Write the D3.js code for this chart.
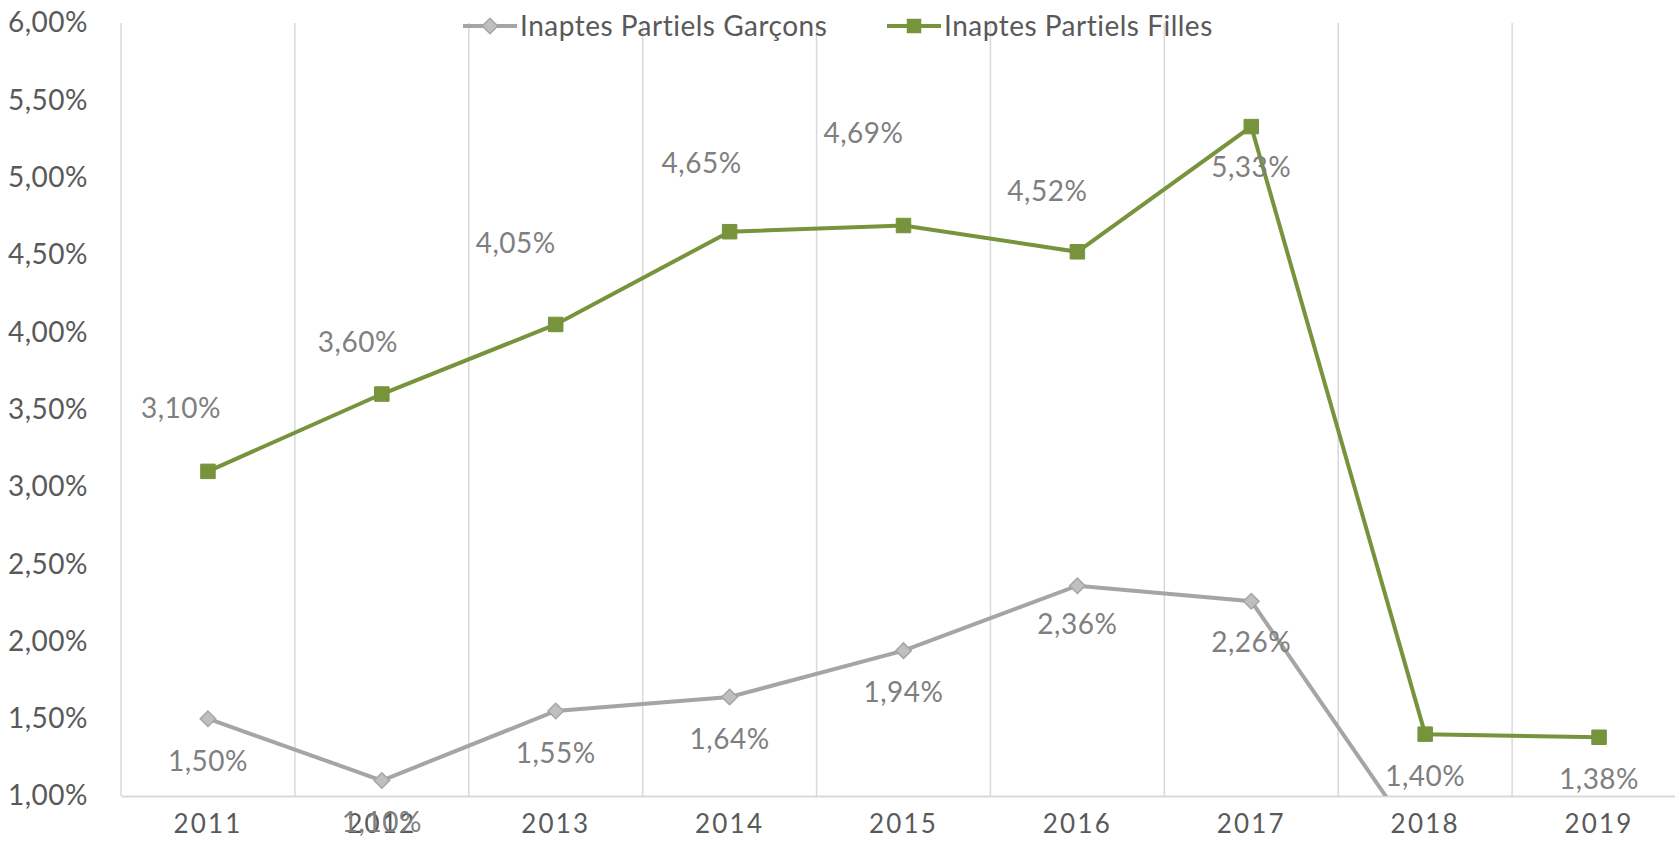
<!DOCTYPE html>
<html><head><meta charset="utf-8">
<script src="https://cdn.jsdelivr.net/npm/d3@7"></script>
<style>
html,body{margin:0;padding:0;background:#fff;overflow:hidden;}
text{font-family:Lato,"Open Sans",sans-serif;}
</style></head>
<body><svg id="c" width="1675" height="846"></svg>
<script>
const years = ["2011","2012","2013","2014","2015","2016","2017","2018","2019"];
const garcons = [1.50, 1.10, 1.55, 1.64, 1.94, 2.36, 2.26, 0.63, 0.60];
const filles  = [3.10, 3.60, 4.05, 4.65, 4.69, 4.52, 5.33, 1.40, 1.38];
const yTicks = [1.0, 1.5, 2.0, 2.5, 3.0, 3.5, 4.0, 4.5, 5.0, 5.5, 6.0];
const seriesNames = ["Inaptes Partiels Garçons", "Inaptes Partiels Filles"];
// label nudges (px) relative to each point
const gLabelOff = [[0,42],[0,42],[0,42],[0,42],[0,42],[0,38],[0,41],[0,42],[0,42]];
const fLabelOff = [[-27,-63],[-24,-52],[-40,-81],[-28,-69],[-40,-92],[-30,-61],[0,41],[0,42],[0,42]];

const W = 1675, H = 846;
const m = {left:121, top:23, bottom:50};
const plotRight = 1686;
const svg = d3.select("#c");
const x = d3.scaleBand().domain(years).range([m.left, plotRight]);
const y = d3.scaleLinear().domain([1, 6]).range([H - m.bottom, m.top]);
const fmt = v => d3.format(".2f")(v).replace(".", ",") + "%";
const cx = d => x(d) + x.bandwidth()/2;
const FS = 28, LS = 0.5;

// vertical gridlines at category boundaries
svg.append("g").selectAll("line").data(years).join("line")
  .attr("x1", d => x(d)).attr("x2", d => x(d))
  .attr("y1", y(6)).attr("y2", y(1))
  .attr("stroke", "#d9d9d9").attr("stroke-width", 1.5);

// x axis
const xAxis = svg.append("g").attr("transform", `translate(0,${y(1)})`)
  .call(d3.axisBottom(x).tickSize(0).tickPadding(19));
xAxis.select(".domain").attr("stroke", "#d9d9d9").attr("stroke-width", 2);
xAxis.selectAll("text").attr("font-size", 26).attr("fill", "#595959")
  .attr("letter-spacing", 2.2).attr("font-family", "Lato").attr("dy", "0.71em");

// y axis
const yAxis = svg.append("g").attr("transform", `translate(${m.left},0)`)
  .call(d3.axisLeft(y).tickValues(yTicks).tickSize(0).tickPadding(33).tickFormat(fmt));
yAxis.select(".domain").remove();
yAxis.selectAll("text").attr("font-size", FS).attr("letter-spacing", LS).attr("fill", "#595959").attr("font-family", "Lato");

svg.append("clipPath").attr("id", "plot").append("rect")
  .attr("x", m.left).attr("y", 0).attr("width", W - m.left).attr("height", y(1));

const line = d3.line().x((d,i) => cx(years[i])).y(d => y(d));
const gCol = "#a5a5a5", gFill = "#bfbfbf", fCol = "#77933c";

const plot = svg.append("g").attr("clip-path", "url(#plot)");
plot.append("path").datum(garcons).attr("d", line).attr("fill", "none")
  .attr("stroke", gCol).attr("stroke-width", 4);
plot.append("path").datum(filles).attr("d", line).attr("fill", "none")
  .attr("stroke", fCol).attr("stroke-width", 4);

const diamondPath = d3.symbol().type(d3.symbolSquare).size(120);
const square = d3.symbol().type(d3.symbolSquare).size(210);
plot.selectAll(".gm").data(garcons).join("path").attr("class","gm")
  .attr("d", diamondPath)
  .attr("transform", (d,i) => `translate(${cx(years[i])},${y(d)}) rotate(45)`)
  .attr("fill", gFill).attr("stroke", gCol).attr("stroke-width", 1.5);
plot.selectAll(".fm").data(filles).join("path").attr("class","fm")
  .attr("transform", (d,i) => `translate(${cx(years[i])},${y(d)})`)
  .attr("d", square).attr("fill", fCol).attr("stroke", fCol);

// data labels
const lbl = svg.append("g").attr("font-size", FS).attr("letter-spacing", LS).attr("fill", "#7f7f7f")
  .attr("text-anchor", "middle").attr("font-family", "Lato");
lbl.selectAll(".gl").data(garcons.map((v,i)=>({v,i})).filter(d => d.v >= 1)).join("text")
  .attr("x", d => cx(years[d.i]) + gLabelOff[d.i][0])
  .attr("y", d => y(d.v) + gLabelOff[d.i][1]).attr("dy", "0.35em").text(d => fmt(d.v));
lbl.selectAll(".fl").data(filles.map((v,i)=>({v,i})).filter(d => d.v >= 1)).join("text")
  .attr("x", d => cx(years[d.i]) + fLabelOff[d.i][0])
  .attr("y", d => y(d.v) + fLabelOff[d.i][1]).attr("dy", "0.35em").text(d => fmt(d.v));

// legend
const leg = svg.append("g").attr("transform", "translate(463,26)");
const items = [{name: seriesNames[0], col: gCol, x: 0, type: "d"}, {name: seriesNames[1], col: fCol, x: 424, type: "s"}];
items.forEach(it => {
  const g = leg.append("g").attr("transform", `translate(${it.x},0)`);
  g.append("line").attr("x1", 0).attr("x2", 54).attr("stroke", it.col).attr("stroke-width", 4);
  if (it.type === "d")
    g.append("path").attr("d", diamondPath())
      .attr("transform", "translate(27,0) rotate(45)").attr("fill", gFill).attr("stroke", gCol).attr("stroke-width", 1.5);
  else
    g.append("path").attr("d", square()).attr("transform", "translate(27,0)").attr("fill", fCol);
  g.append("text").attr("x", 57).attr("dy", "0.35em").attr("font-size", FS).attr("letter-spacing", LS)
    .attr("fill", "#595959").attr("font-family", "Lato").text(it.name);
});
</script></body></html>
